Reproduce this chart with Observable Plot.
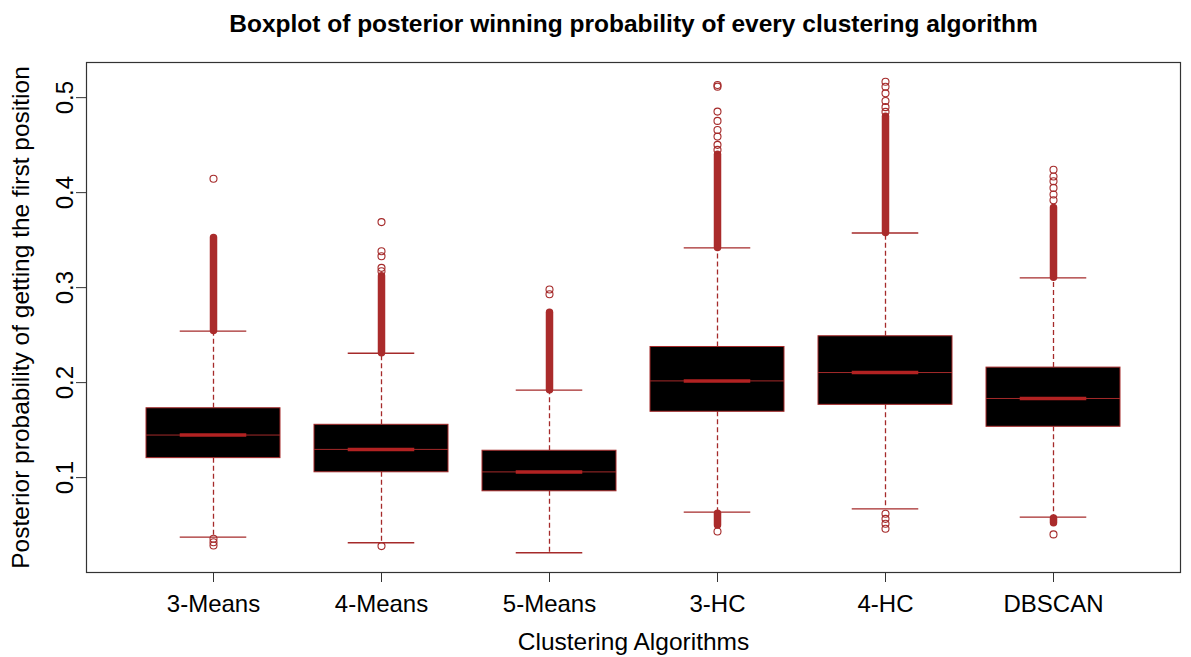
<!DOCTYPE html>
<html>
<head>
<meta charset="utf-8">
<script src="https://cdn.jsdelivr.net/npm/d3@7"></script>
<script src="https://cdn.jsdelivr.net/npm/@observablehq/plot@0.6"></script>
<style>
  html, body { margin: 0; padding: 0; background: #fff; }
  #chart svg { display: block; }
</style>
</head>
<body>
<div id="chart"></div>
<script>
// ---- data ----
const categories = ["3-Means", "4-Means", "5-Means", "3-HC", "4-HC", "DBSCAN"];
const q1        = [0.1205, 0.1056, 0.0856, 0.1693, 0.1766, 0.1535];
const medians   = [0.1448, 0.1297, 0.1060, 0.2018, 0.2106, 0.1833];
const q3        = [0.1730, 0.1556, 0.1283, 0.2375, 0.2488, 0.2158];
const whiskerLo = [0.0373, 0.0314, 0.0209, 0.0636, 0.0671, 0.0583];
const whiskerHi = [0.2543, 0.2309, 0.1920, 0.3418, 0.3575, 0.3103];
// densely packed upper outliers (thousands of overlapping circles)
const denseHiTop = [0.3523, 0.3120, 0.2736, 0.4400, 0.4800, 0.3838];
// densely packed lower outliers (where present)
const denseLoCat = ["3-HC", "DBSCAN"];
const denseLoTop = [0.0620, 0.0570];
const denseLoBot = [0.0496, 0.0520];
// individually visible outliers
const outlierCat = [
  "3-Means", "3-Means", "3-Means", "3-Means",
  "4-Means", "4-Means", "4-Means", "4-Means", "4-Means", "4-Means",
  "5-Means", "5-Means",
  "3-HC", "3-HC", "3-HC", "3-HC", "3-HC", "3-HC", "3-HC", "3-HC", "3-HC",
  "4-HC", "4-HC", "4-HC", "4-HC", "4-HC", "4-HC", "4-HC", "4-HC", "4-HC", "4-HC",
  "DBSCAN", "DBSCAN", "DBSCAN", "DBSCAN", "DBSCAN", "DBSCAN", "DBSCAN"
];
const outlierVal = [
  0.4146, 0.0356, 0.0320, 0.0286,
  0.3690, 0.3383, 0.3330, 0.3208, 0.3173, 0.0279,
  0.2980, 0.2930,
  0.5133, 0.5116, 0.4853, 0.4755, 0.4660, 0.4590, 0.4503, 0.4450, 0.0433,
  0.5168, 0.5115, 0.5045, 0.4965, 0.4900, 0.4850, 0.0619, 0.0566, 0.0514, 0.0461,
  0.4241, 0.4170, 0.4120, 0.4050, 0.3980, 0.3920, 0.0402
];
const yTicks = [0.1, 0.2, 0.3, 0.4, 0.5];
const yDomain = [0.0001, 0.537];
const titleText = "Boxplot of posterior winning probability of every clustering algorithm";
const xLabel = "Clustering Algorithms";
const yLabel = "Posterior probability of getting the first position";

// ---- tables built from the arrays ----
const boxes = categories.map((c, i) => ({
  cat: c, q1: q1[i], med: medians[i], q3: q3[i],
  lo: whiskerLo[i], hi: whiskerHi[i], denseTop: denseHiTop[i]
}));
const denseLow = denseLoCat.map((c, i) => ({cat: c, top: denseLoTop[i], bot: denseLoBot[i]}));
const outliers = outlierCat.map((c, i) => ({cat: c, v: outlierVal[i]}));

const brown = "#A52A2A";
const W = 1191, H = 657;
const mL = 86, mR = 11, mT = 62, mB = 85;
const innerW = W - mL - mR;
const padOuter = 0.343, padInner = 0.2;
const step = innerW / (categories.length - padInner + 2 * padOuter);
const bw = step * (1 - padInner);
const stapleInset = bw * 0.25;

const chart = Plot.plot({
  width: W,
  height: H,
  marginLeft: mL,
  marginRight: mR,
  marginTop: mT,
  marginBottom: mB,
  style: {fontFamily: "'Liberation Sans', Arial, Helvetica, sans-serif", fontSize: "24px", color: "black", background: "white"},
  x: {type: "band", domain: categories, paddingInner: padInner, paddingOuter: padOuter, align: 0.5},
  y: {type: "linear", domain: yDomain},
  marks: [
    // whiskers (dashed)
    Plot.ruleX(boxes, {x: "cat", y1: "q3", y2: "hi", stroke: brown, strokeWidth: 1.3, strokeDasharray: "5,3"}),
    Plot.ruleX(boxes, {x: "cat", y1: "q1", y2: "lo", stroke: brown, strokeWidth: 1.3, strokeDasharray: "5,3"}),
    // staples
    Plot.tickY(boxes, {x: "cat", y: "hi", stroke: brown, strokeWidth: 1.3, insetLeft: stapleInset, insetRight: stapleInset}),
    Plot.tickY(boxes, {x: "cat", y: "lo", stroke: brown, strokeWidth: 1.3, insetLeft: stapleInset, insetRight: stapleInset}),
    // dense outlier columns
    Plot.ruleX(boxes, {x: "cat", y1: "hi", y2: "denseTop", stroke: "#AA2B2B", strokeWidth: 7.5, strokeLinecap: "round"}),
    Plot.ruleX(denseLow, {x: "cat", y1: "bot", y2: "top", stroke: "#AA2B2B", strokeWidth: 7.5, strokeLinecap: "round"}),
    // individual outliers
    Plot.dot(outliers, {x: "cat", y: "v", r: 3.5, stroke: brown, strokeWidth: 1.1, fill: "none"}),
    // boxes
    Plot.barY(boxes, {x: "cat", y1: "q1", y2: "q3", fill: "black", stroke: brown, strokeWidth: 1}),
    // medians
    Plot.tickY(boxes, {x: "cat", y: "med", stroke: brown, strokeWidth: 1}),
    Plot.tickY(boxes, {x: "cat", y: "med", stroke: "#B22222", strokeWidth: 3.5, insetLeft: stapleInset, insetRight: stapleInset}),
    // frame
    Plot.frame({stroke: "#333", strokeWidth: 1.2}),
    // axes
    Plot.axisX({tickSize: 10, tickPadding: 12, fontSize: 24, label: null, stroke: "#333"}),
    Plot.axisY(yTicks, {tickSize: 10, tickFormat: () => "", label: null, stroke: "#333"}),
    Plot.text(yTicks, {y: d => d, text: d => d.toFixed(1), frameAnchor: "left", dx: -14, rotate: -90,
      textAnchor: "middle", lineAnchor: "bottom", fontSize: 24, fill: "black"}),
    // axis titles
    Plot.text([yLabel], {text: d => d, frameAnchor: "left", dx: 28 - mL, rotate: -90,
      textAnchor: "middle", lineAnchor: "bottom", fontSize: 24.5, fill: "black"}),
    Plot.text([xLabel], {text: d => d, frameAnchor: "bottom", dy: 649 - (H - mB),
      textAnchor: "middle", lineAnchor: "bottom", fontSize: 24.5, fill: "black"}),
    // title
    Plot.text([titleText], {text: d => d, frameAnchor: "top", dy: 31 - mT,
      textAnchor: "middle", lineAnchor: "bottom", fontSize: 24.5, fontWeight: "bold", fill: "black"})
  ]
});
document.getElementById("chart").appendChild(chart);
</script>
</body>
</html>
